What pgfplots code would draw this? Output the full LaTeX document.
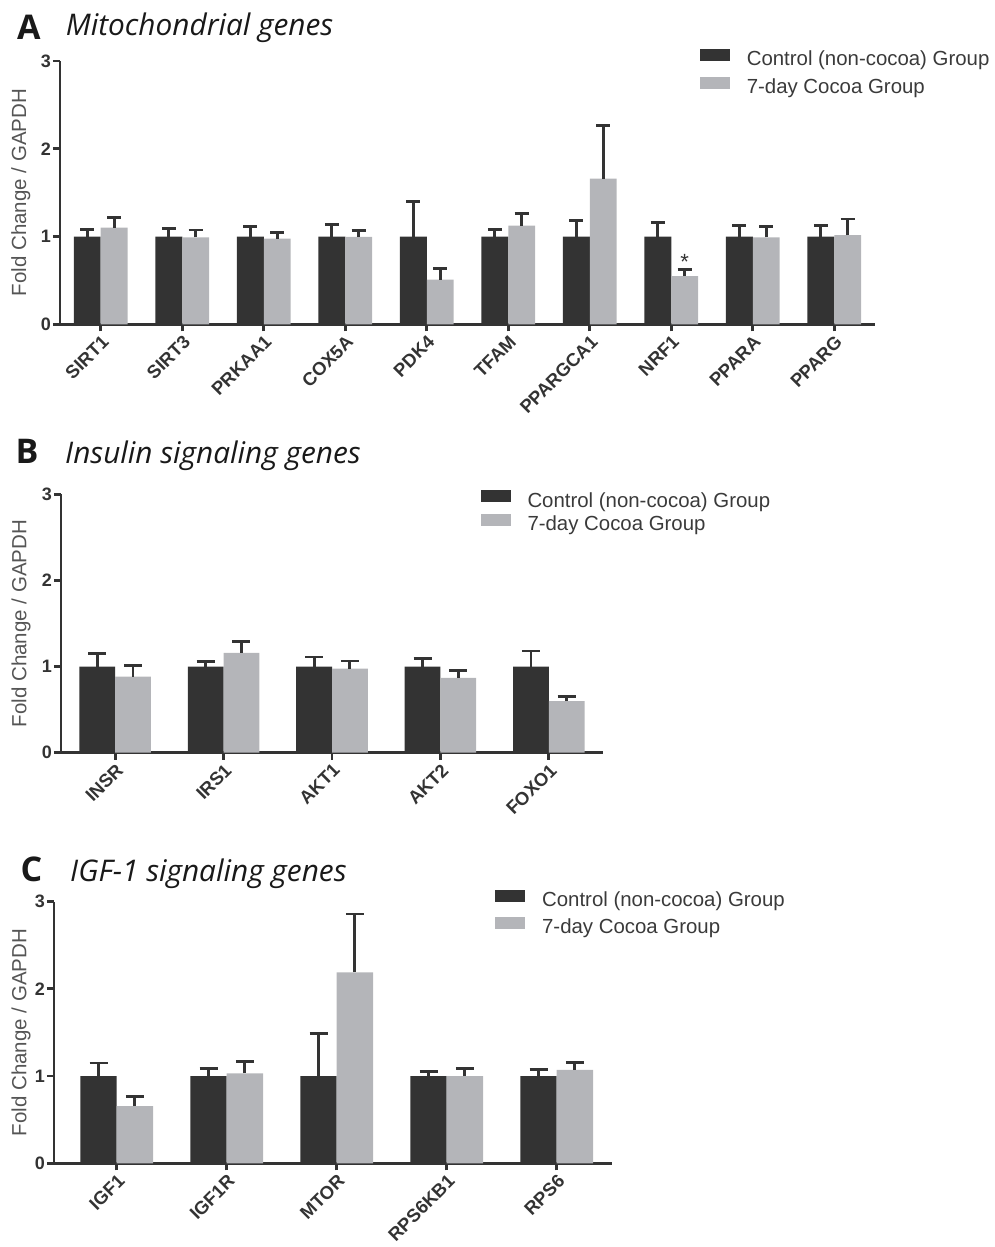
\documentclass[border=0pt]{standalone}
\usepackage{fontspec}
\setmainfont{Liberation Sans}
\newfontfamily\titlefont{Open Sans}
\usepackage{pgfplots}
\pgfplotsset{compat=1.18}
\definecolor{dk}{HTML}{333333}
\definecolor{lt}{HTML}{B4B5B9}
\definecolor{axc}{HTML}{333333}
\definecolor{lab}{HTML}{555555}
\definecolor{legc}{HTML}{3A3A3A}

\pgfplotsset{
  panel/.style={
    scale only axis, anchor=south west,
    ymin=0, ymax=3, ytick={0,1,2,3}, yticklabels={0,1,2,3},
    axis x line*=bottom, axis y line*=left,
    axis line style={line width=2.8pt, draw=axc, -},
    tick align=outside, major tick length=7pt,
    tick style={line width=2.8pt, draw=axc},
    xtick=data,
    /pgf/number format/assume math mode=true,
    yticklabel style={font=\fontsize{18}{21}\selectfont\bfseries, text=dk, inner xsep=2pt},
    xticklabel style={font=\fontsize{18.4}{21}\selectfont\bfseries, text=dk, rotate=45, anchor=north east, inner sep=2pt},
    ylabel={Fold Change / GAPDH},
    ylabel style={font=\fontsize{20.5}{24}\selectfont, text=lab, anchor=center},
    ybar, bar width=0.33,
    enlargelimits=false, clip=false,
    legend image code/.code={\fill[##1] (0pt,-2pt) rectangle (30pt,10pt);},
    legend cell align=left,
    legend style={draw=none, fill=none, font=\fontsize{20.4}{24}\selectfont, text=legc,
      anchor=north west, inner sep=0pt, outer sep=0pt, column sep=17pt,
      nodes={inner sep=0pt}},
  },
  ctrl/.style={fill=dk, draw=none, bar shift=-0.165,
    error bars/.cd, y dir=plus, y explicit,
    error bar style={line width=2.8pt, draw=dk},
    error mark options={rotate=90, line width=2.8pt, mark size=#1, draw=dk}},
  cocoa/.style={fill=lt, draw=none, bar shift=0.165,
    error bars/.cd, y dir=plus, y explicit,
    error bar style={line width=2.8pt, draw=dk},
    error mark options={rotate=90, line width=2.8pt, mark size=#1, draw=dk}},
}

\begin{document}
\begin{tikzpicture}[x=1pt,y=1pt]
\useasboundingbox (0,0) rectangle (995,1247);

% ---------------- Panel A ----------------
\begin{axis}[panel, at={(60pt,922.7pt)}, width=815pt, height=263.3pt,
  xmin=-0.5, xmax=9.5,
  xticklabels={SIRT1,SIRT3,PRKAA1,COX5A,PDK4,TFAM,PPARGCA1,NRF1,PPARA,PPARG},
  ylabel style={at={(axis description cs:-0.048,0.5)}},
  legend style={at={(axis description cs:0.785,1.0466)}, row sep=10pt}]
\addplot[ctrl=7pt] coordinates {
  (0,1) +- (0,0.083) (1,1) +- (0,0.09) (2,1) +- (0,0.11) (3,1) +- (0,0.135)
  (4,1) +- (0,0.40) (5,1) +- (0,0.083) (6,1) +- (0,0.18) (7,1) +- (0,0.163)
  (8,1) +- (0,0.13) (9,1) +- (0,0.13)};
\addlegendentry{Control (non-cocoa) Group}
\addplot[cocoa=7pt] coordinates {
  (0,1.10) +- (0,0.115) (1,0.99) +- (0,0.085) (2,0.976) +- (0,0.074) (3,0.995) +- (0,0.075)
  (4,0.51) +- (0,0.13) (5,1.125) +- (0,0.135) (6,1.66) +- (0,0.605) (7,0.55) +- (0,0.07)
  (8,0.99) +- (0,0.12) (9,1.015) +- (0,0.185)};
\addlegendentry{7-day Cocoa Group}
\node[anchor=base, inner sep=0pt, font=\fontsize{22}{24}\selectfont, text=dk] at (axis cs:7.165,0.62) {*};
\end{axis}

% ---------------- Panel B ----------------
\begin{axis}[panel, at={(61pt,494.3pt)}, width=542pt, height=258.4pt,
  xmin=-0.5, xmax=4.5,
  xticklabels={INSR,IRS1,AKT1,AKT2,FOXO1},
  ylabel style={at={(axis description cs:-0.0738,0.5)}},
  legend style={at={(axis description cs:0.774,1.0148)}, row sep=4.9pt}]
\addplot[ctrl=9pt] coordinates {
  (0,1) +- (0,0.155) (1,1) +- (0,0.06) (2,1) +- (0,0.11) (3,1) +- (0,0.09) (4,1) +- (0,0.18)};
\addlegendentry{Control (non-cocoa) Group}
\addplot[cocoa=9pt] coordinates {
  (0,0.883) +- (0,0.127) (1,1.16) +- (0,0.13) (2,0.976) +- (0,0.089) (3,0.868) +- (0,0.082) (4,0.60) +- (0,0.05)};
\addlegendentry{7-day Cocoa Group}
\end{axis}

% ---------------- Panel C ----------------
\begin{axis}[panel, at={(54pt,83.7pt)}, width=557.7pt, height=261.6pt,
  xmin=-0.57, xmax=4.5,
  xticklabels={IGF1,IGF1R,MTOR,RPS6KB1,RPS6},
  ylabel style={at={(axis description cs:-0.0592,0.5)}},
  legend style={at={(axis description cs:0.791,1.0452)}, row sep=9pt}]
\addplot[ctrl=9pt] coordinates {
  (0,1) +- (0,0.15) (1,1) +- (0,0.09) (2,1) +- (0,0.49) (3,1) +- (0,0.05) (4,1) +- (0,0.08)};
\addlegendentry{Control (non-cocoa) Group}
\addplot[cocoa=9pt] coordinates {
  (0,0.657) +- (0,0.107) (1,1.03) +- (0,0.14) (2,2.19) +- (0,0.67) (3,1.0) +- (0,0.09) (4,1.07) +- (0,0.09)};
\addlegendentry{7-day Cocoa Group}
\end{axis}

% ---------------- Titles ----------------
\node[anchor=base west, inner sep=0pt, font=\titlefont\bfseries\fontsize{34}{38}\selectfont, text=black!90] at (17,1207) {A};
\node[anchor=base west, inner sep=0pt, font=\titlefont\itshape\fontsize{29.8}{34}\selectfont, text=black!90] at (65.7,1211.3) {Mitochondrial genes};
\node[anchor=base west, inner sep=0pt, font=\titlefont\bfseries\fontsize{34}{38}\selectfont, text=black!90] at (15.5,783.7) {B};
\node[anchor=base west, inner sep=0pt, font=\titlefont\itshape\fontsize{29.8}{34}\selectfont, text=black!90] at (65,783.7) {Insulin signaling genes};
\node[anchor=base west, inner sep=0pt, font=\titlefont\bfseries\fontsize{34}{38}\selectfont, text=black!90] at (20.5,365.3) {C};
\node[anchor=base west, inner sep=0pt, font=\titlefont\itshape\fontsize{29.8}{34}\selectfont, text=black!90] at (70,365.3) {IGF-1 signaling genes};
\end{tikzpicture}
\end{document}
